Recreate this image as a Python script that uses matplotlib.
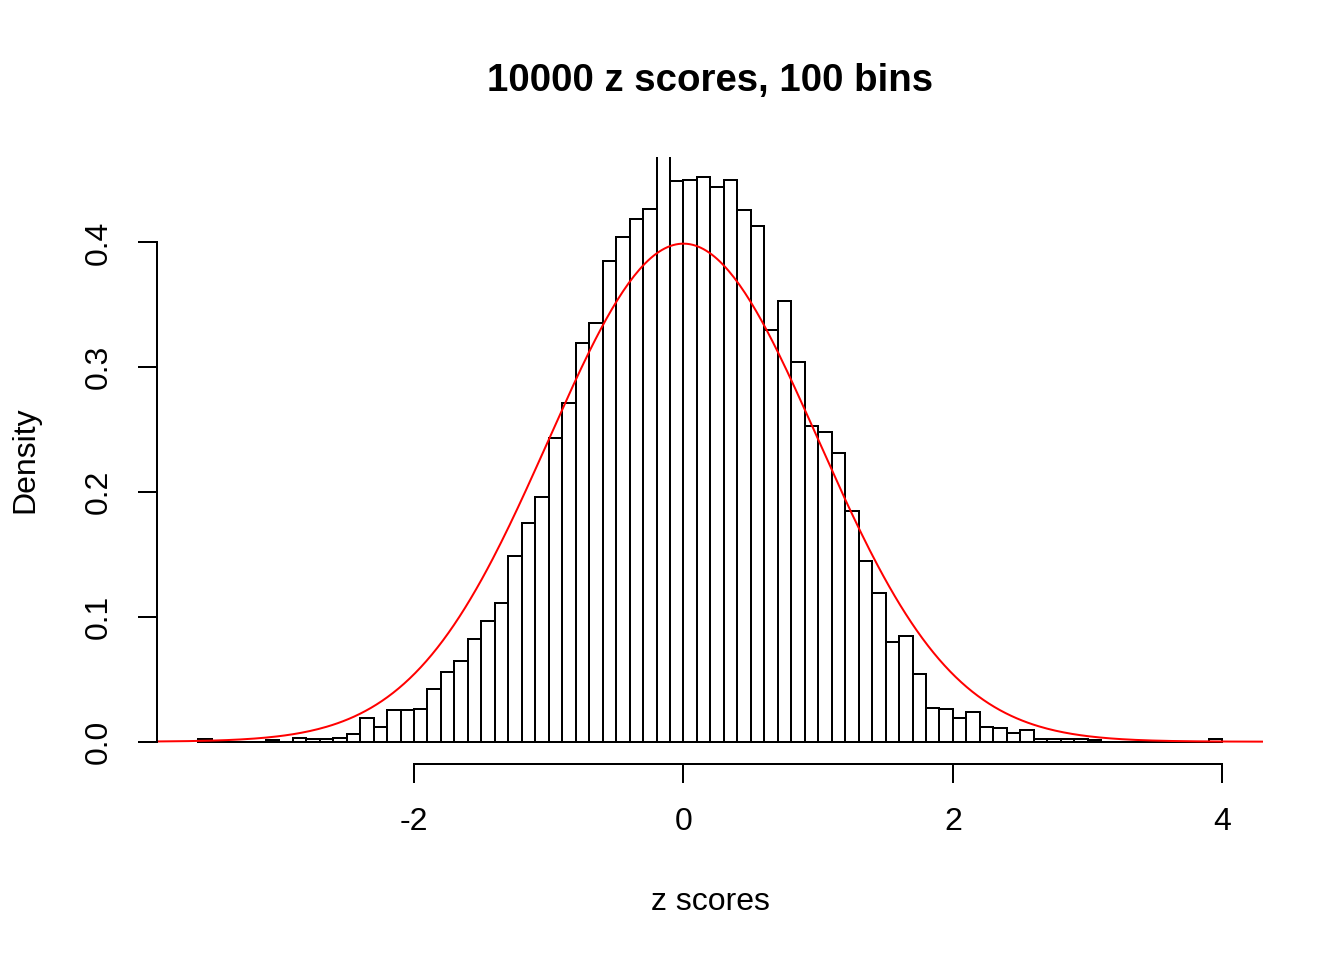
import numpy as np
import matplotlib
matplotlib.use("Agg")
import matplotlib.pyplot as plt

plt.rcParams['font.family'] = ['Liberation Sans', 'DejaVu Sans']

# ---- data (density per bin, width 0.1, from -3.6 to 4.0) ----
bin_start = -3.6
bin_width = 0.1
densities = [
    0.002, 0.000, 0.000, 0.000, 0.000, 0.001, 0.000, 0.003, 0.002, 0.002,   # -3.6 .. -2.7
    0.003, 0.006, 0.019, 0.012, 0.025, 0.025, 0.026, 0.042, 0.056, 0.065,   # -2.6 .. -1.7
    0.082, 0.097, 0.111, 0.149, 0.175, 0.196, 0.243, 0.271, 0.319, 0.335,   # -1.6 .. -0.7
    0.385, 0.404, 0.419, 0.427, 0.482, 0.449, 0.450, 0.452, 0.444, 0.450,   # -0.6 .. 0.3
    0.426, 0.413, 0.330, 0.353, 0.304, 0.253, 0.248, 0.231, 0.185, 0.145,   # 0.4 .. 1.3
    0.119, 0.080, 0.085, 0.054, 0.027, 0.026, 0.019, 0.024, 0.012, 0.011,   # 1.4 .. 2.3
    0.007, 0.009, 0.002, 0.002, 0.002, 0.002, 0.001, 0.000, 0.000, 0.000,   # 2.4 .. 3.3
    0.000, 0.000, 0.000, 0.000, 0.000, 0.002,                               # 3.4 .. 3.9
]
x_ticks = [-2, 0, 2, 4]
y_ticks = [0.0, 0.1, 0.2, 0.3, 0.4]
title = "10000 z scores, 100 bins"
x_label = "z scores"
y_label = "Density"
norm_mean, norm_sd = 0.0, 1.0

# ---- figure ----
W, H, DPI = 7, 5, 192
fig = plt.figure(figsize=(W, H), dpi=DPI)
ax = fig.add_axes([0.82 / W, 1.02 / H, (W - 0.82 - 0.42) / W, (H - 1.02 - 0.82) / H])

n = len(densities)
lefts = bin_start + bin_width * np.arange(n)
ax.bar(lefts, densities, width=bin_width, align='edge', facecolor='white',
       edgecolor='black', linewidth=0.75)

xmin, xmax = bin_start, bin_start + bin_width * n
dx = 0.04 * (xmax - xmin)
ax.set_xlim(xmin - dx, xmax + dx)
ymax = 0.45
ax.set_ylim(-0.04 * ymax, ymax * 1.04)

xs = np.linspace(xmin - dx, xmax + dx, 400)
ys = np.exp(-0.5 * ((xs - norm_mean) / norm_sd) ** 2) / (norm_sd * np.sqrt(2 * np.pi))
ax.plot(xs, ys, color='red', linewidth=0.75)

for s in ['top', 'right']:
    ax.spines[s].set_visible(False)
ax.spines['left'].set_bounds(0, 0.4)
ax.spines['bottom'].set_bounds(-2, 4)
for s in ['left', 'bottom']:
    ax.spines[s].set_linewidth(0.75)

ax.set_xticks(x_ticks)
ax.set_xticklabels([str(v) for v in x_ticks])
ax.set_yticks(y_ticks)
ax.set_yticklabels([f"{v:.1f}" for v in y_ticks], rotation=90, va='center')
ax.tick_params(axis='both', direction='out', length=7.2, width=0.75, labelsize=12, pad=9)

fig.text(710 / 1344, 1 - 81 / 960, title, ha='center', va='center',
         fontsize=14.4, fontweight='bold')
fig.text(710 / 1344, 1 - 902 / 960, x_label, ha='center', va='center', fontsize=12)
fig.text(25 / 1344, 1 - 460 / 960, y_label, ha='center', va='center', fontsize=12, rotation=90)

fig.savefig("out.png", dpi=DPI)
